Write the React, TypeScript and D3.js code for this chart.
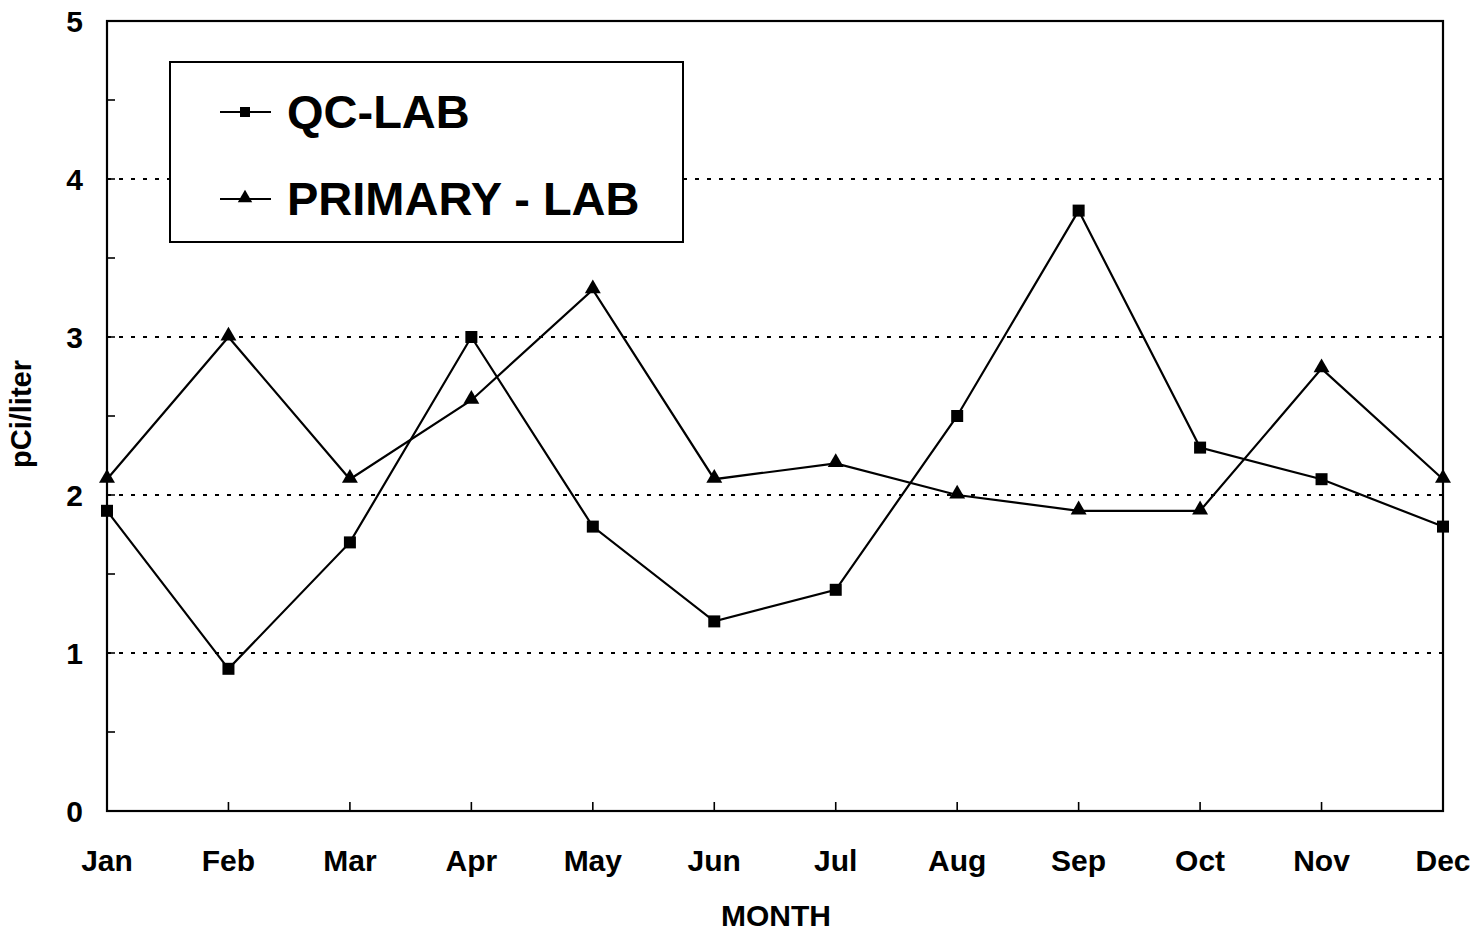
import React from "react";
import * as d3 from "d3";

const months = ["Jan", "Feb", "Mar", "Apr", "May", "Jun", "Jul", "Aug", "Sep", "Oct", "Nov", "Dec"];
const qcLab = [1.9, 0.9, 1.7, 3.0, 1.8, 1.2, 1.4, 2.5, 3.8, 2.3, 2.1, 1.8];
const primaryLab = [2.1, 3.0, 2.1, 2.6, 3.3, 2.1, 2.2, 2.0, 1.9, 1.9, 2.8, 2.1];
const yTicks = [0, 1, 2, 3, 4, 5];
const yMinorTicks = [0.5, 1.5, 2.5, 3.5, 4.5];
const gridValues = [1, 2, 3, 4];
const seriesNames = ["QC-LAB", "PRIMARY - LAB"];

const W = 1482;
const H = 934;
const L = 107;
const R = 1443;
const T = 21;
const B = 811;
const FONT = "'Liberation Sans', Arial, Helvetica, sans-serif";

export default function App() {
  const x = d3.scalePoint<string>().domain(months).range([L, R]).padding(0);
  const y = d3.scaleLinear().domain([0, 5]).range([B, T]);
  const line = d3
    .line<number>()
    .x((_, i) => x(months[i]) as number)
    .y((d) => y(d));
  const tri = d3.symbol().type(d3.symbolTriangle).size(110)() as string;
  const triSmall = d3.symbol().type(d3.symbolTriangle).size(90)() as string;

  return (
    <svg
      width={W}
      height={H}
      style={{ position: "absolute", left: 0, top: 0, background: "#fff" }}
      fontFamily={FONT}
    >
      <rect x={0} y={0} width={W} height={H} fill="#fff" />
      {gridValues.map((v) => (
        <line
          key={"g" + v}
          x1={L}
          x2={R}
          y1={y(v)}
          y2={y(v)}
          stroke="#000"
          strokeWidth={1.8}
          strokeDasharray="4 8"
        />
      ))}
      <rect x={L} y={T} width={R - L} height={B - T} fill="none" stroke="#000" strokeWidth={2.2} />
      {yTicks.concat(yMinorTicks).map((v) => (
        <line key={"yt" + v} x1={L} x2={L + 8} y1={y(v)} y2={y(v)} stroke="#000" strokeWidth={1.6} />
      ))}
      {yTicks.map((v) => (
        <text
          key={"yl" + v}
          x={83}
          y={y(v)}
          dy="0.36em"
          textAnchor="end"
          fontSize={30}
          fontWeight="bold"
        >
          {v}
        </text>
      ))}
      {months.map((m) => (
        <line key={"xt" + m} x1={x(m)} x2={x(m)} y1={B} y2={B - 9} stroke="#000" strokeWidth={1.6} />
      ))}
      {months.map((m) => (
        <text key={"xl" + m} x={x(m)} y={871} textAnchor="middle" fontSize={30} fontWeight="bold">
          {m}
        </text>
      ))}
      <text x={776} y={926} textAnchor="middle" fontSize={30} fontWeight="bold">
        MONTH
      </text>
      <text
        transform={`translate(31,${414}) rotate(-90)`}
        textAnchor="middle"
        fontSize={29}
        fontWeight="bold"
      >
        pCi/liter
      </text>
      <path d={line(qcLab) as string} fill="none" stroke="#000" strokeWidth={2.2} />
      <path d={line(primaryLab) as string} fill="none" stroke="#000" strokeWidth={2.2} />
      {qcLab.map((v, i) => (
        <rect
          key={"q" + i}
          x={(x(months[i]) as number) - 6}
          y={y(v) - 6}
          width={12}
          height={12}
          fill="#000"
        />
      ))}
      {primaryLab.map((v, i) => (
        <path
          key={"p" + i}
          d={tri}
          transform={`translate(${x(months[i])},${y(v) - 1})`}
          fill="#000"
        />
      ))}
      <rect x={170} y={62} width={513} height={180} fill="#fff" stroke="#000" strokeWidth={2} />
      <line x1={220} x2={271} y1={112} y2={112} stroke="#000" strokeWidth={2.2} />
      <rect x={240} y={107} width={10} height={10} fill="#000" />
      <text x={287} y={128} fontSize={47} fontWeight="bold">
        {seriesNames[0]}
      </text>
      <line x1={220} x2={271} y1={199} y2={199} stroke="#000" strokeWidth={2.2} />
      <path d={triSmall} transform="translate(245,198)" fill="#000" />
      <text x={287} y={215} fontSize={47} fontWeight="bold">
        {seriesNames[1]}
      </text>
    </svg>
  );
}
